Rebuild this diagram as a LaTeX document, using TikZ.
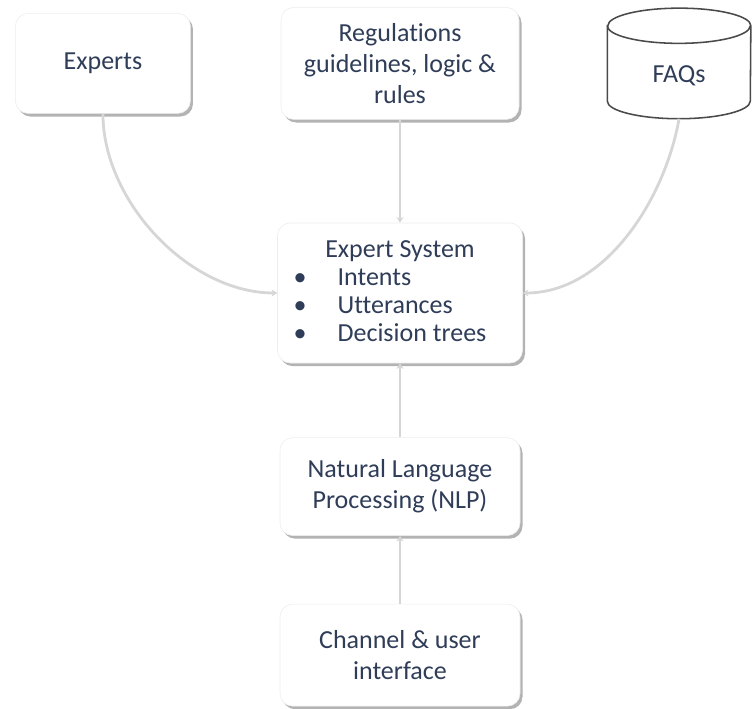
\documentclass[tikz,border=0pt]{standalone}
\usepackage{fontspec}
\setmainfont[Ligatures=NoCommon]{Carlito}
\usepackage{xcolor}
\usepackage{tikz}
\usetikzlibrary{arrows.meta,positioning,backgrounds,shadows}
\definecolor{esInk}{HTML}{2F3D58}
\definecolor{esLine}{HTML}{D6D6D6}
\definecolor{esEdge}{HTML}{EDEDED}
\definecolor{esDrum}{HTML}{4A4A4A}
\tikzset{
  % Rounded white box with a soft shadow
  wbox/.style={rectangle,rounded corners=9pt,
    minimum width=6cm,minimum height=2.5cm,
    align=center,draw=esEdge,fill=white,
    font=\fontsize{18.5}{22}\selectfont,text=esInk,
    drop shadow={shadow xshift=1.8pt,shadow yshift=-2.2pt,
      fill=black!50,opacity=0.6}},
  % Database drum (outline drawn behind the node)
  drum/.style={rectangle,minimum width=3.575cm,minimum height=2.75cm,
    text height=1.05cm,
    align=center,font=\fontsize{18.5}{22}\selectfont,text=esInk},
  drumline/.style={draw=esDrum,line width=1.1pt,fill=white},
  % Connectors
  arr/.style={-{Stealth[length=4pt,width=5pt]},line width=2pt,
    color=esLine},
}
\begin{document}
\begin{tikzpicture}[node distance=2.575cm and 2.25cm]
  \useasboundingbox (-10cm,-10.375cm) rectangle (8.8cm,7.325cm);

  \node[wbox,minimum width=6.125cm,minimum height=3.5cm] (es)
    {\begin{tabular}{@{}p{1.1cm}@{}l@{\hspace{0.5cm}}}
       \multicolumn{2}{@{}c@{\hspace{0.5cm}}}{\hspace*{0.5cm}Expert System}\\[-2pt]
       \textbullet & Intents\\[-2pt]
       \textbullet & Utterances\\[-2pt]
       \textbullet & Decision trees
     \end{tabular}};

  \node[wbox,minimum width=5.95cm,minimum height=2.8cm,above=of es]
    (regs) {Regulations\\guidelines, logic \&\\rules};

  \node[wbox,minimum width=4.375cm,left=of regs] (experts) {Experts};

  \node[drum,right=2.2cm of regs] (faqs) {FAQs};

  \node[wbox,minimum height=2.45cm,below=1.85cm of es] (nlp)
    {Natural Language\\Processing (NLP)};

  \node[wbox,minimum height=2.55cm,below=1.7cm of nlp] (chan)
    {Channel \& user\\interface};

  % drum outline
  \begin{scope}[on background layer]
    \draw[drumline] ([yshift=-0.44cm]faqs.north west)
      -- ([yshift=0.44cm]faqs.south west)
      arc[start angle=180,end angle=360,x radius=1.7875cm,y radius=0.44cm]
      -- ([yshift=-0.44cm]faqs.north east)
      arc[start angle=0,end angle=180,x radius=1.7875cm,y radius=0.44cm]
      -- cycle;
    \draw[drumline,fill=none] ([yshift=-0.44cm]faqs.north west)
      arc[start angle=180,end angle=360,x radius=1.7875cm,y radius=0.44cm];
  \end{scope}

  \draw[arr] (experts.south) to[out=-90,in=180,looseness=0.9] (es.west);
  \draw[arr] (faqs.south) to[out=-100,in=0,looseness=0.9] (es.east);
  \draw[arr] (regs.south) -- (es.north);
  \draw[arr] (nlp.north) -- (es.south);
  \draw[arr] (chan.north) -- (nlp.south);
\end{tikzpicture}
\end{document}
